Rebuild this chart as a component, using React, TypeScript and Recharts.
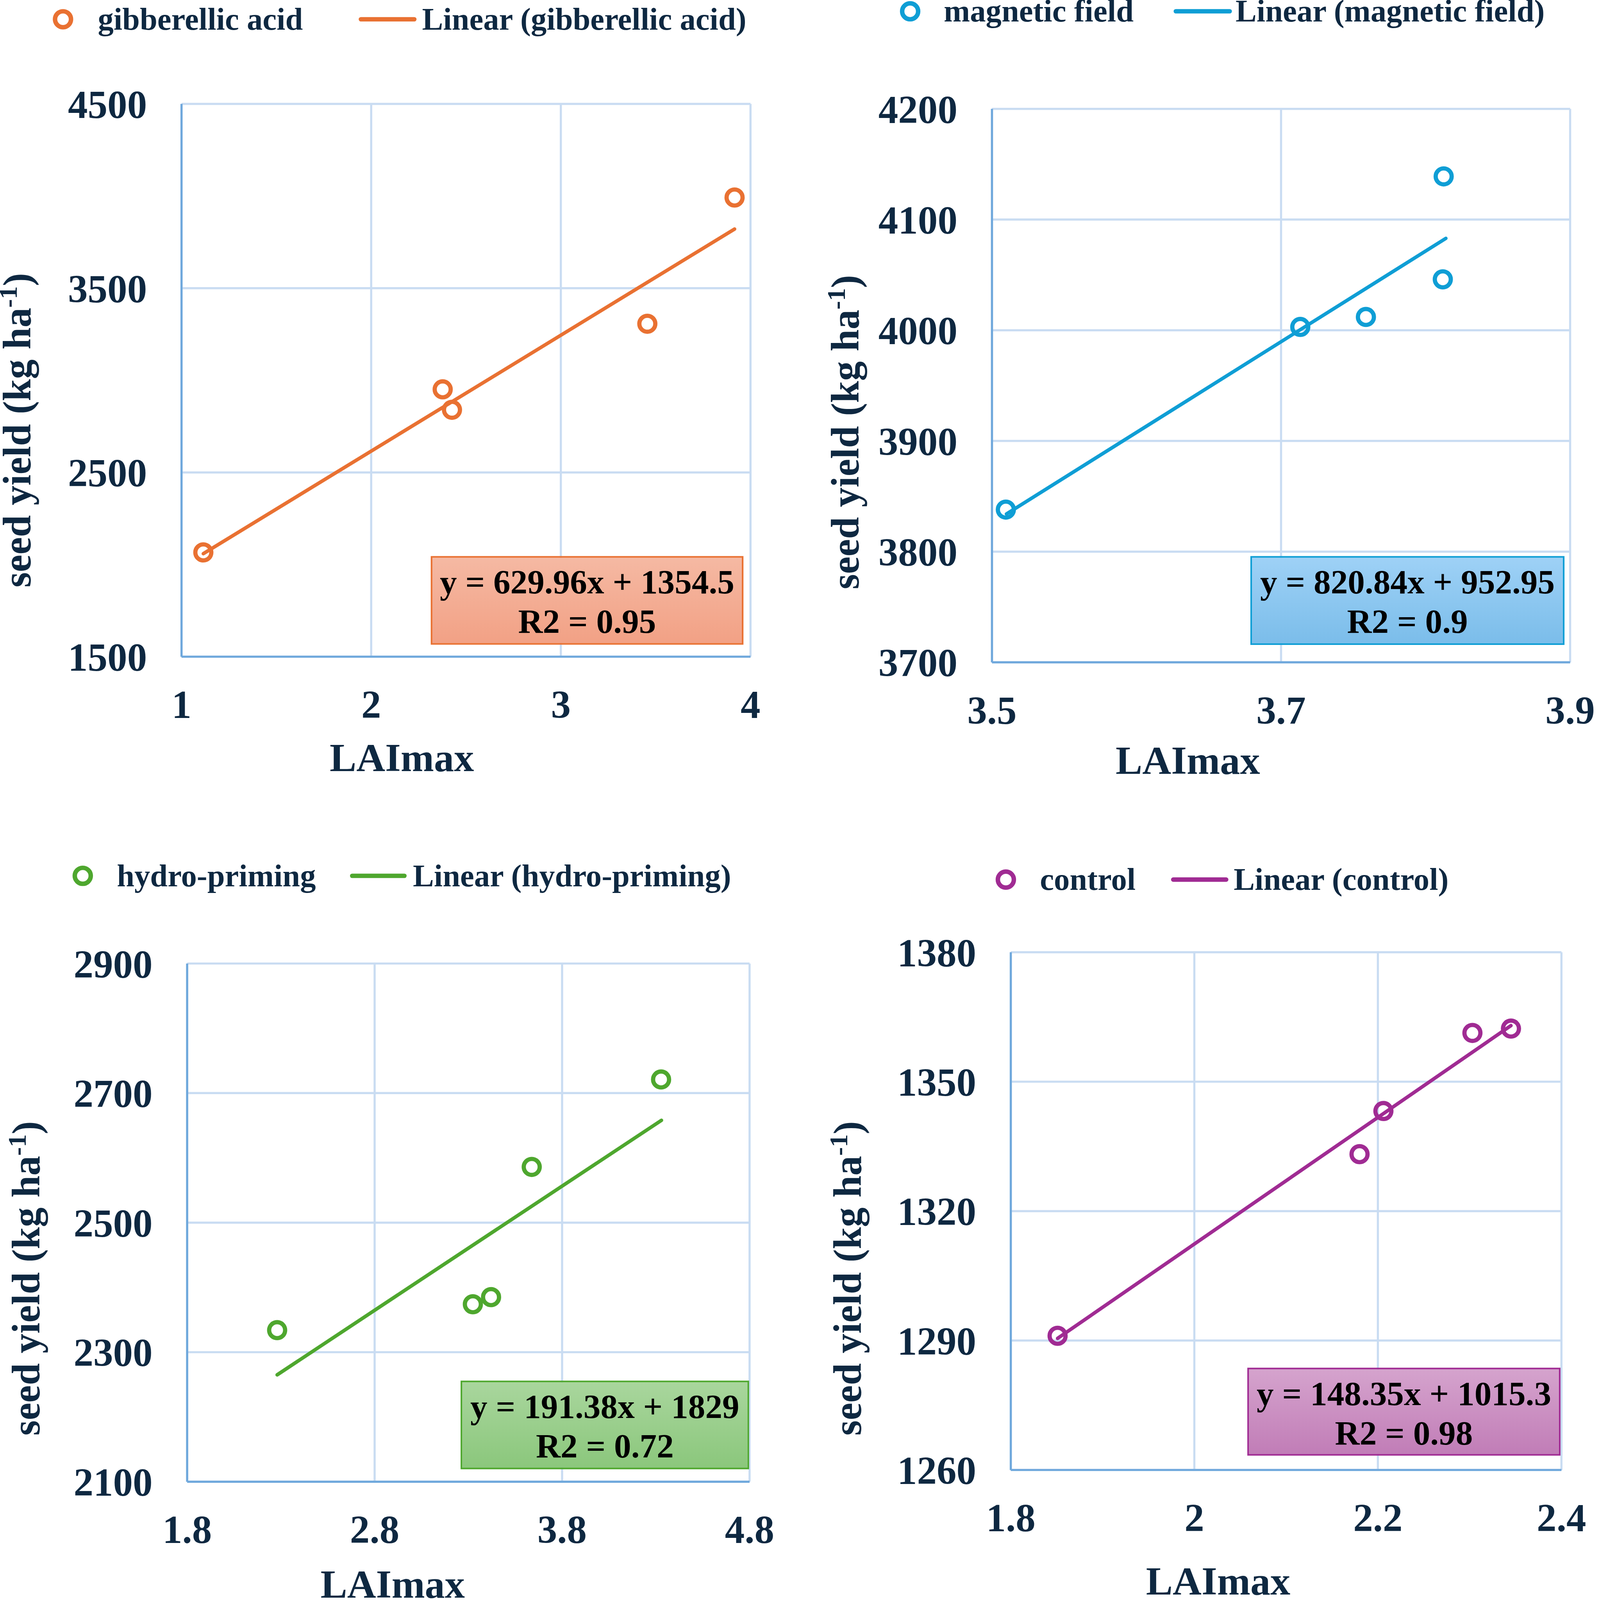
import React from "react";
import {
  ComposedChart,
  Scatter,
  Line,
  XAxis,
  YAxis,
  CartesianGrid,
  Legend,
  Label,
} from "recharts";

// 4 scatter panels: seed yield vs LAImax, each with a linear trend and equation box

const FONT = '"Liberation Serif", "Times New Roman", serif';
const INK = "#0e2841";
const GRID = "#c9dcf2";
const AXIS = "#6fa8dc";
const PAGE_W = 6782;
const PAGE_H = 6805;

/* ---------- data ---------- */

// gibberellic acid
const gaX = [1.115, 2.377, 2.426, 3.456, 3.916];
const gaY = [2066, 2951, 2840, 3307, 3992];
const gaTrendX = [1.115, 3.916];
const gaTrendY = [2059, 3821];
const gaXTicks = [1, 2, 3, 4];
const gaYTicks = [1500, 2500, 3500, 4500];
const gaEq = ["y = 629.96x + 1354.5", "R2 = 0.95"];

// magnetic field
const mfX = [3.5096, 3.7133, 3.7587, 3.8119, 3.8125];
const mfY = [3838, 4003, 4012, 4046, 4139];
const mfTrendX = [3.51, 3.814];
const mfTrendY = [3834, 4083];
const mfXTicks = [3.5, 3.7, 3.9];
const mfYTicks = [3700, 3800, 3900, 4000, 4100, 4200];
const mfEq = ["y = 820.84x + 952.95", "R2 = 0.9"];

// hydro-priming
const hpX = [2.28, 3.324, 3.421, 3.638, 4.328];
const hpY = [2334, 2374, 2385, 2586, 2721];
const hpTrendX = [2.28, 4.33];
const hpTrendY = [2265, 2658];
const hpXTicks = [1.8, 2.8, 3.8, 4.8];
const hpYTicks = [2100, 2300, 2500, 2700, 2900];
const hpEq = ["y = 191.38x + 1829", "R2 = 0.72"];

// control
const ctX = [1.851, 2.18, 2.206, 2.303, 2.345];
const ctY = [1291.1, 1333.2, 1343.2, 1361.3, 1362.3];
const ctTrendX = [1.851, 2.345];
const ctTrendY = [1290.5, 1363];
const ctXTicks = [1.8, 2, 2.2, 2.4];
const ctYTicks = [1260, 1290, 1320, 1350, 1380];
const ctEq = ["y = 148.35x + 1015.3", "R2 = 0.98"];

const zip = (xs: number[], ys: number[]) => xs.map((x, i) => ({ x, y: ys[i] }));

type Panel = {
  name: string;
  color: string;
  boxFill: [string, string];
  points: { x: number; y: number }[];
  trend: { x: number; y: number }[];
  xTicks: number[];
  yTicks: number[];
  eq: string[];
  // layout, relative to the panel origin
  left: number;
  top: number;
  width: number;
  height: number;
  plot: { l: number; r: number; t: number; b: number };
  legend: { cy: number; marker: number; t1: number; l1: number; l2: number; t2: number };
  yTitle: { x: number; y: number };
  xTitle: { x: number; y: number };
  box: { l: number; t: number; w: number; h: number };
};

const panels: Panel[] = [
  {
    name: "gibberellic acid",
    color: "#e97132",
    boxFill: ["#f5b9a3", "#f2a185"],
    points: zip(gaX, gaY),
    trend: zip(gaTrendX, gaTrendY),
    xTicks: gaXTicks,
    yTicks: gaYTicks,
    eq: gaEq,
    left: 0,
    top: 0,
    width: 3391,
    height: 3402,
    plot: { l: 772, r: 3192, t: 442, b: 2793 },
    legend: { cy: 82, marker: 268, t1: 416, l1: 1525, l2: 1772, t2: 1795 },
    yTitle: { x: 130, y: 1830 },
    xTitle: { x: 1709, y: 3280 },
    box: { l: 1832, t: 2365, w: 1330, h: 377 },
  },
  {
    name: "magnetic field",
    color: "#0f9ed5",
    boxFill: ["#9ed1f6", "#7bbdea"],
    points: zip(mfX, mfY),
    trend: zip(mfTrendX, mfTrendY),
    xTicks: mfXTicks,
    yTicks: mfYTicks,
    eq: mfEq,
    left: 3391,
    top: 0,
    width: 3391,
    height: 3402,
    plot: { l: 828, r: 3287, t: 463, b: 2817 },
    legend: { cy: 48, marker: 480, t1: 623, l1: 1600, l2: 1849, t2: 1864 },
    yTitle: { x: 260, y: 1838 },
    xTitle: { x: 1661, y: 3291 },
    box: { l: 1927, t: 2365, w: 1336, h: 378 },
  },
  {
    name: "hydro-priming",
    color: "#4ea72e",
    boxFill: ["#a9d69d", "#8bc77c"],
    points: zip(hpX, hpY),
    trend: zip(hpTrendX, hpTrendY),
    xTicks: hpXTicks,
    yTicks: hpYTicks,
    eq: hpEq,
    left: 0,
    top: 3402,
    width: 3391,
    height: 3403,
    plot: { l: 796, r: 3188, t: 696, b: 2900 },
    legend: { cy: 323, marker: 352, t1: 497, l1: 1488, l2: 1730, t2: 1756 },
    yTitle: { x: 167, y: 2035 },
    xTitle: { x: 1670, y: 3393 },
    box: { l: 1959, t: 2470, w: 1227, h: 377 },
  },
  {
    name: "control",
    color: "#a02b93",
    boxFill: ["#d5a3cd", "#c17db7"],
    points: zip(ctX, ctY),
    trend: zip(ctTrendX, ctTrendY),
    xTicks: ctXTicks,
    yTicks: ctYTicks,
    eq: ctEq,
    left: 3391,
    top: 3402,
    width: 3391,
    height: 3403,
    plot: { l: 908, r: 3250, t: 648, b: 2850 },
    legend: { cy: 339, marker: 887, t1: 1032, l1: 1589, l2: 1834, t2: 1856 },
    yTitle: { x: 270, y: 2035 },
    xTitle: { x: 1790, y: 3379 },
    box: { l: 1914, t: 2415, w: 1332, h: 374 },
  },
];

const Y_AXIS_W = 300;
const X_AXIS_H = 300;

const tickStyle = {
  fill: INK,
  fontSize: 168,
  fontWeight: 700,
  fontFamily: FONT,
};

function ScatterPanel({ p }: { p: Panel }) {
  const margin = {
    top: p.plot.t,
    right: p.width - p.plot.r,
    bottom: p.height - p.plot.b - X_AXIS_H,
    left: p.plot.l - Y_AXIS_W,
  };
  const lg = p.legend;

  const renderLegend = () => (
    <svg width={p.width} height={420} style={{ position: "absolute", left: 0, top: 0, overflow: "visible" }}>
      <circle cx={lg.marker} cy={lg.cy} r={34} fill="none" stroke={p.color} strokeWidth={19} />
      <text x={lg.t1} y={lg.cy + 44} fontFamily={FONT} fontWeight={700} fontSize={134} fill={INK}>
        {p.name}
      </text>
      <line x1={lg.l1 + 10} y1={lg.cy} x2={lg.l2 - 10} y2={lg.cy} stroke={p.color} strokeWidth={19} strokeLinecap="round" />
      <text x={lg.t2} y={lg.cy + 44} fontFamily={FONT} fontWeight={700} fontSize={134} fill={INK}>
        {`Linear (${p.name})`}
      </text>
    </svg>
  );

  return (
    <div style={{ position: "absolute", left: p.left, top: p.top, width: p.width, height: p.height }}>
      <ComposedChart width={p.width} height={p.height} margin={margin}>
        <CartesianGrid stroke={GRID} strokeWidth={9} />
        <XAxis
          type="number"
          dataKey="x"
          domain={[p.xTicks[0], p.xTicks[p.xTicks.length - 1]]}
          ticks={p.xTicks}
          interval={0}
          allowDataOverflow
          height={X_AXIS_H}
          axisLine={{ stroke: AXIS, strokeWidth: 9 }}
          tickLine={false}
          tickSize={6}
          tickMargin={136}
          tick={tickStyle}
        >
          <Label
            content={() => (
              <text x={p.xTitle.x} y={p.xTitle.y} textAnchor="middle" fontFamily={FONT} fontWeight={700} fontSize={170} fill={INK}>
                LAImax
              </text>
            )}
          />
        </XAxis>
        <YAxis
          type="number"
          dataKey="y"
          domain={[p.yTicks[0], p.yTicks[p.yTicks.length - 1]]}
          ticks={p.yTicks}
          interval={0}
          allowDataOverflow
          width={Y_AXIS_W}
          axisLine={{ stroke: AXIS, strokeWidth: 9 }}
          tickLine={false}
          tickSize={6}
          tickMargin={141}
          tick={tickStyle}
        >
          <Label
            content={() => (
              <text
                transform={`translate(${p.yTitle.x},${p.yTitle.y}) rotate(-90)`}
                textAnchor="middle"
                fontFamily={FONT}
                fontWeight={700}
                fontSize={168}
                fill={INK}
              >
                seed yield (kg ha
                <tspan fontSize={110} dy={-58}>
                  -1
                </tspan>
                <tspan dy={58}>)</tspan>
              </text>
            )}
          />
        </YAxis>
        <Legend
          layout="horizontal"
          verticalAlign="middle"
          align="center"
          wrapperStyle={{ position: "absolute", left: 0, top: 0, width: p.width, height: 420 }}
          content={renderLegend}
        />
        <Scatter
          name={p.name}
          data={p.points}
          isAnimationActive={false}
          shape={(s: any) => (
            <circle cx={s.cx} cy={s.cy} r={34} fill="#fff" fillOpacity={0} stroke={p.color} strokeWidth={18} />
          )}
        />
        <Line
          name={`Linear (${p.name})`}
          data={p.trend}
          dataKey="y"
          type="linear"
          stroke={p.color}
          strokeWidth={15}
          strokeLinecap="round"
          dot={false}
          activeDot={false}
          isAnimationActive={false}
        />
      </ComposedChart>
      {/* trend equation box */}
      <div
        style={{
          position: "absolute",
          left: p.box.l,
          top: p.box.t,
          width: p.box.w,
          height: p.box.h,
          boxSizing: "border-box",
          border: `7px solid ${p.color}`,
          background: `linear-gradient(to bottom, ${p.boxFill[0]}, ${p.boxFill[1]})`,
          paddingTop: 20,
          textAlign: "center",
          fontFamily: FONT,
          fontWeight: 700,
          fontSize: 145,
          lineHeight: "167px",
          color: "#000",
          whiteSpace: "nowrap",
        }}
      >
        {p.eq.map((line) => (
          <div key={line}>{line}</div>
        ))}
      </div>
    </div>
  );
}

export default function App() {
  // the window may report fewer CSS pixels than the picture has; fit the page to it
  const vw = typeof window !== "undefined" ? window.innerWidth : PAGE_W;
  const vh = typeof window !== "undefined" ? window.innerHeight : PAGE_H;
  const scale = Math.min(1, vw / PAGE_W, vh / PAGE_H);

  return (
    <div
      style={{
        position: "absolute",
        left: 0,
        top: 0,
        width: PAGE_W,
        height: PAGE_H,
        background: "#fff",
        overflow: "hidden",
        transform: `scale(${scale})`,
        transformOrigin: "0 0",
      }}
    >
      {panels.map((p) => (
        <ScatterPanel key={p.name} p={p} />
      ))}
    </div>
  );
}
